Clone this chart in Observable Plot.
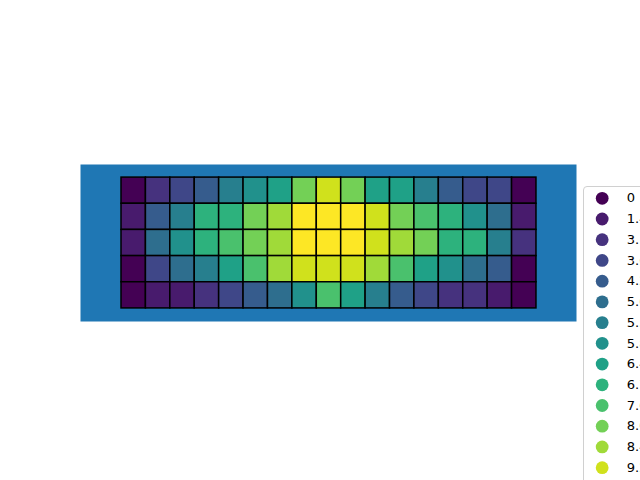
<!DOCTYPE html>
<html>
<head>
<meta charset="utf-8">
<script src="https://cdn.jsdelivr.net/npm/d3@7"></script>
<script src="https://cdn.jsdelivr.net/npm/@observablehq/plot@0.6"></script>
<style>
  html, body { margin: 0; padding: 0; background: #fff; }
  #wrap { position: relative; width: 640px; height: 480px; overflow: hidden; font-family: "DejaVu Sans", sans-serif; }
  #legend { position: absolute; left: 583px; top: 186px; width: 120px; height: 340px; border: 1px solid #d0d0d0; border-radius: 4px; background: rgba(255,255,255,0.8); box-sizing: border-box; }
  #legend svg { position: absolute; left: -1px; top: -1px; }
</style>
</head>
<body>
<div id="wrap"><div id="main"></div><div id="legend"></div></div>
<script>
// Unique levels (legend order); labels are clipped at the window edge
const levels = [0, 1.41, 3.16, 3.61, 4.24, 5.0, 5.39, 5.83, 6.4, 6.71, 7.07, 8.06, 8.49, 9.22, 10.0];
const levelLabels = ["0", "1.41", "3.16", "3.61", "4.24", "5.0", "5.39", "5.83", "6.4", "6.71", "7.07", "8.06", "8.49", "9.22", "10.0"];

// Grid of level indices, 5 rows x 17 columns (top row first)
const row0 = [0, 2, 3, 4, 6, 7, 8, 11, 13, 11, 8, 8, 6, 4, 3, 3, 0];
const row1 = [1, 4, 6, 9, 9, 11, 12, 14, 14, 14, 13, 11, 10, 9, 7, 5, 1];
const row2 = [1, 5, 7, 9, 10, 11, 12, 14, 14, 14, 13, 12, 11, 9, 9, 6, 2];
const row3 = [0, 3, 5, 6, 8, 10, 12, 13, 13, 13, 12, 10, 8, 7, 5, 4, 0];
const row4 = [0, 1, 1, 2, 3, 4, 5, 7, 10, 8, 6, 4, 3, 2, 2, 1, 0];
const rows = [row0, row1, row2, row3, row4];

const cells = [];
rows.forEach((r, ri) => r.forEach((li, ci) => cells.push({col: ci, row: ri, value: levels[li]})));

const colorScale = {type: "ordinal", scheme: "viridis", domain: levels};

const main = Plot.plot({
  width: 640,
  height: 480,
  marginLeft: 80,
  marginRight: 64,
  marginTop: 164,
  marginBottom: 159,
  x: {domain: [-1.68, 18.64], axis: null},
  y: {domain: [-0.5, 5.5], reverse: true, axis: null},
  color: colorScale,
  marks: [
    Plot.frame({fill: "#1f77b4", stroke: null}),
    Plot.rect(cells, {
      x1: "col", x2: d => d.col + 1,
      y1: "row", y2: d => d.row + 1,
      fill: "value", stroke: "black", strokeWidth: 1.5, inset: 0
    })
  ]
});
document.getElementById("main").appendChild(main);

const legendData = levels.map((v, i) => ({i, v, label: levelLabels[i]}));
const legend = Plot.plot({
  width: 120,
  height: 340,
  margin: 0,
  x: {domain: [0, 1], range: [19, 44], axis: null},
  y: {domain: [0, 14], range: [12, 307], axis: null},
  color: colorScale,
  style: {background: "transparent", overflow: "visible"},
  marks: [
    Plot.dot(legendData, {x: () => 0, y: "i", r: 6.5, fill: "v", stroke: null}),
    Plot.text(legendData, {x: () => 1, y: "i", text: "label", textAnchor: "start", fontSize: 13.3, fill: "#000", fontFamily: "DejaVu Sans"})
  ]
});
document.getElementById("legend").appendChild(legend);
</script>
</body>
</html>
